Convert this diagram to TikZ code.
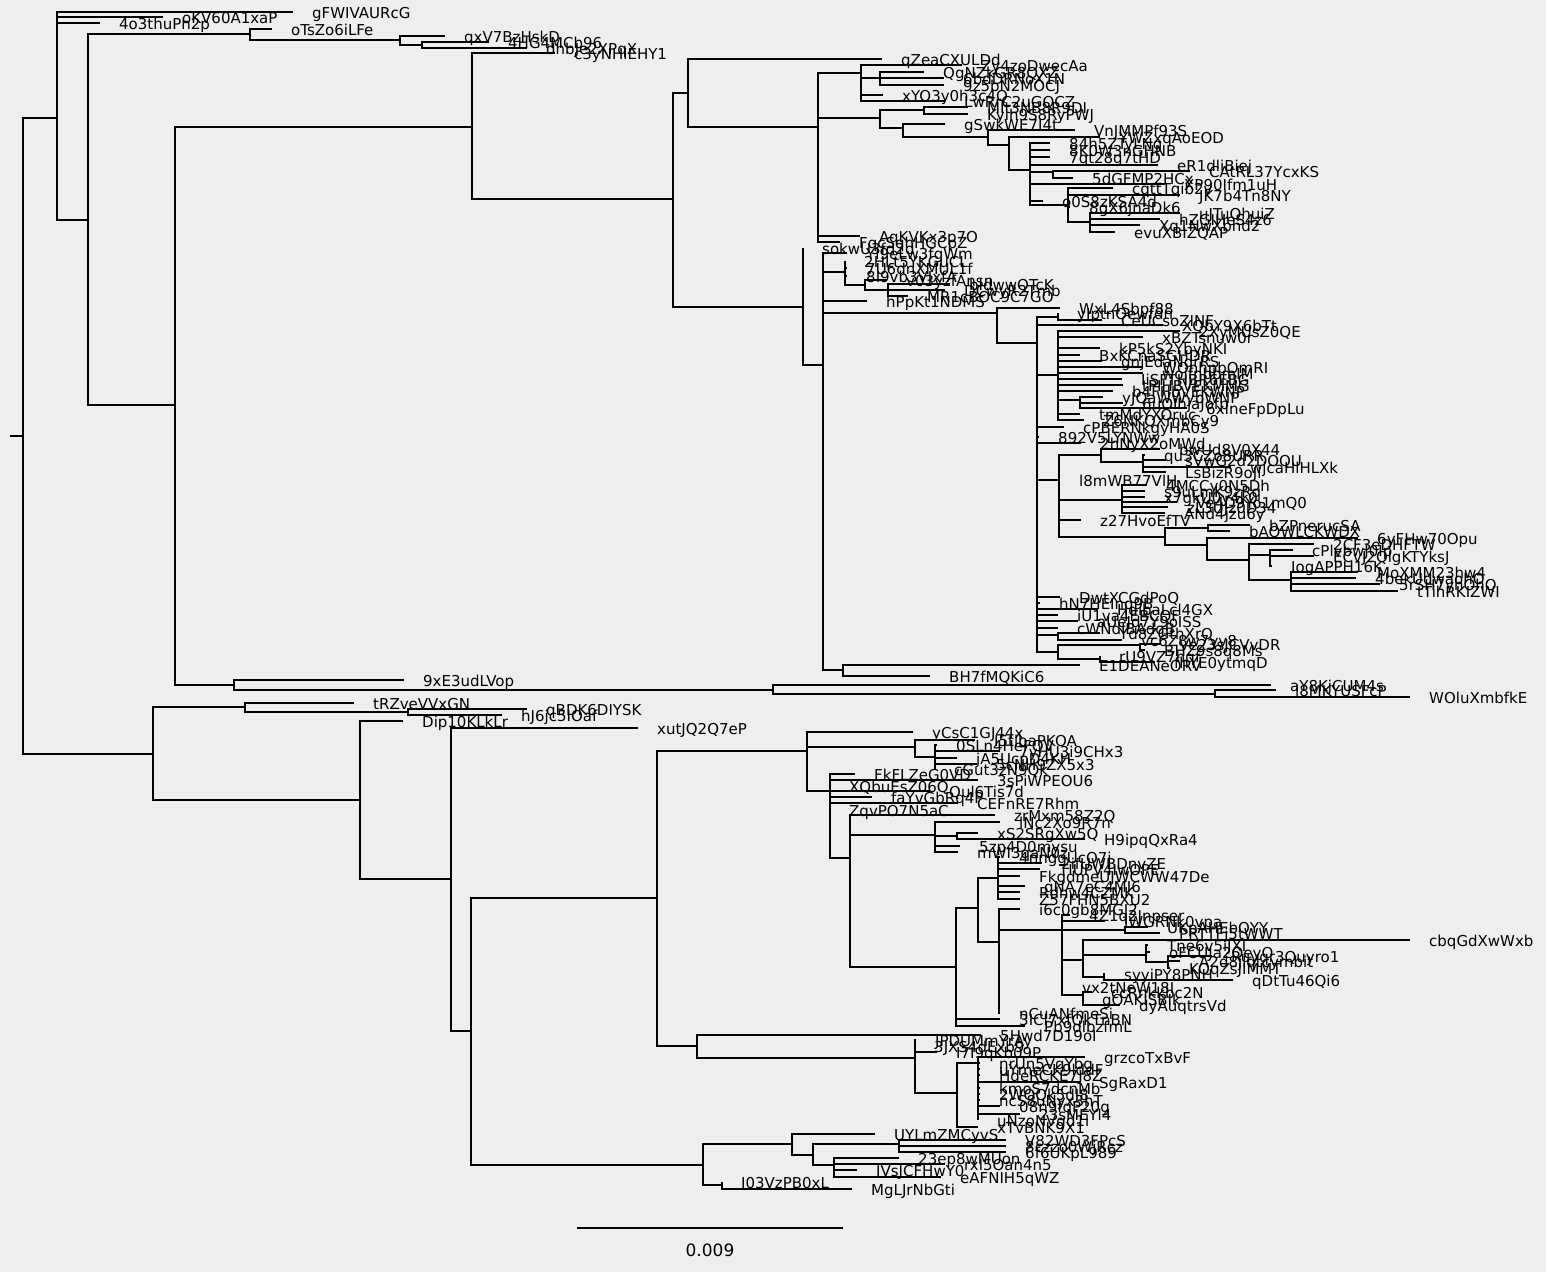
\documentclass[tikz,border=0pt]{standalone}
\usepackage{fontspec}
\usepackage{tikz}
\setmainfont{DejaVu Sans}
\definecolor{paper}{HTML}{EEEEEE}
\tikzstyle{leaf}=[anchor=west,inner xsep=19pt,inner ysep=0pt,text height=14pt,text depth=2pt,font=\fontsize{15}{15}\selectfont]
\tikzstyle{branch} = [draw,line width=1.6pt,-]

\begin{document}
\begin{tikzpicture}[x=1pt,y=-1pt]
    \useasboundingbox (0,0) rectangle (1546,1272);
    \fill[paper] (0,0) rectangle (1546,1272);
    % Draw the tree
    % First we place the inner nodes
    \foreach \name/\px/\py in {rootstub/10/436, r0/23/436, nA/57/118, nB/88/220, nC/250/34, nD/400/40, nE/422/45,
        nG/175/405, nF/472/127, nH/673/199, nU/688/93, nS/818/127, nSa/861/73, nSb/880/78, nSc/880/118,
        nSd/924/110, nSe/903/128, nSf/988/137, nSg/1009/145, nSh/1030/170, nSi/1053/172, nSj/1068/205, nSk/1090/222,
        nT/803/307, nV/823/365, nVa/845/272, nVb/865/285, nVc/888/290, nW/997/313, nX/1037/343, nXa/1058/317,
        nY/1058/375, nYa/1080/400, nZ/1059/480, nZa/1101/455, nZb/1143/462, nZd/1122/500, nZe/1165/537,
        nZf/1208/528, nZg/1207/545, nZh/1249/560, nZi/1270/555, nZj/1291/580, nXb/1058/635, nXc/1058/652,
        nXd/1140/645, nXe/1100/659, nVd/843/670, n9x/234/685, n77/773/690, n12/1215/694,
        nI/153/754, nJ/245/707, nK/408/712, nL/360/800, nM/451/879, nN/471/1031, nO/657/898,
        nP/807/751, nPa/915/747, nPb/935/757, nPc/830/791, nPd/850/858, nPe/935/835, nPg/957/836,
        nPh/956/967, nPi/978/908, nPj/998/878, nPl/999/942, nPm/1062/930, nPn/1125/930, nPo/1083/960,
        nPp/1146/955, nPq/1168/962, nPr/1104/977, nPs/1083/995,
        nQ/697/1046, nQa/915/1058, nQb/957/1093, nQc/978/1063,
        nR/703/1165, nRa/792/1144, nRb/722/1185, nRc/813/1155, nRd/899/1144, nRe/834/1165,
        sbL/577/1228, sbR/843/1228}
        \coordinate (\name) at (\px,\py);

    % Then the leaves, named by their labels
    \foreach \px/\py/\name in {293/12/gFWIVAURcG, 163/17/oKV60A1xaP, 100/23/4o3thuPh2p, 272/29/oTsZo6iLFe,
        445/36/qxV7BzHskD, 489/42/4HG4MCb96, 527/48/dhbJe2XPqX, 555/53/c3yNHlEHY1, 882/59/qZeaCXULDd,
        962/65/Zy4zoDwecAa, 924/72/QgNZkGR8QXZ, 944/78/6bdDRNoX1N, 944/85/9z5bN2MOCJ, 883/95/xYO3y0h3c4Q,
        945/101/LwRrC2uGQCZ, 968/107/MIt3NB8R9DI, 968/114/Kyih9S8RyPWJ, 945/124/gSwkWE7I4t,
        1075/130/VnJMMPf93S, 1100/137/YWZxqAoEOD, 1050/143/84h5ZTyLNg, 1050/150/8K0W3nGHNB,
        1050/157/7qt28g7tHD, 1158/165/eR1dliBiej, 1190/171/CAtRL37YcxKS, 1073/178/5dGFMP2HCx,
        1165/184/XP90Ifm1uH, 1113/188/cqttTqib2v, 1180/195/JK7b4Tn8NY, 1043/201/o0S8zKSA4d,
        1070/207/8gX6jnaDk6, 1180/213/uJTuQhuiZ, 1160/219/hZGIHeS4z6, 1140/225/Xq1NwXbhd2,
        1115/232/evuXBIZQAP, 860/236/AqKVKx3p7O, 840/242/FqcSqhHGCpZ,
        803/248/sokwU3fd2d, 847/253/Yl9eLw3fgWm, 845/261/2HLt5YKGuCL, 847/268/7U6dnXMUL1f,
        847/276/8I9vb3VJxfA, 887/280/v03yzfAnsn, 950/284/bIdwwQTcK, 945/290/DCwyR2Tmb,
        908/296/MR1cBOC9C7GO, 867/301/hPpKt1NDMS, 1060/308/WxL4Sbpf88, 1058/313/yIptnOewfdn,
        1102/320/CeUCsoZINF, 1163/325/XQbY9X6bTt, 1180/331/2XyMUsZ0QE, 1143/337/xBZTsnuw0r,
        1100/348/kP5kS2YbyNKI, 1080/355/BxKCnaSGHDR, 1102/361/gnjEdaNdrRS, 1143/367/WOnhpbOmRI,
        1143/373/woifnbbmIM, 1122/379/IiSFTHBR6EBG, 1123/385/tPIHBVEKMMG, 1113/391/b4FHbVEKWNP,
        1103/397/yJQaWWybWNP, 1123/403/6uOIhjaJofp, 1187/408/6xIneFpDpLu, 1080/414/tmMdYXOruc,
        1084/420/Z6NKQXmbCy9, 1064/427/cPBERNkgyHA0S, 1039/437/892V5LYNWw, 1081/443/2hNyX2oMWd,
        1160/449/bwUd8V0X44, 1145/455/qu3CZo8URR, 1166/460/sVwG2d2DOQU, 1231/467/wjcaHlHLXk,
        1166/472/LsBizR9oJl, 1060/480/l8mWB77VlH, 1147/485/4MCCy0N5Dh, 1145/491/s9uLmK9zRq,
        1145/497/x7gkU0y4k0, 1177/502/Ve4D9Yo1mQ0, 1168/507/zL3UJz0D34, 1165/513/ANd4jzu6y,
        1081/520/z27HvoEfTV, 1250/525/bZPnerucSA, 1230/531/bAOWLCKWDX, 1358/538/6yFHw70Opu,
        1314/544/2CF3eDHFTW, 1293/550/cPlvbwJ0Ip, 1314/556/ECvJ2QlgKTYksJ, 1272/566/IogAPPH16K,
        1358/572/MoXMM23hw4, 1356/578/4bekUdwaohO, 1380/584/5rSH7yhOhQ, 1398/591/tTihRKIZWI,
        1060/597/DwtXCGdPoQ, 1040/603/hN7HEInq9B, 1098/609/HdibaLcl4GX, 1058/615/iU1va4EBCQF,
        1078/621/aUeJd7Y9oISS, 1058/628/cWNdIBAdqB, 1100/633/Yd8ZGthXrO, 1122/640/vc6Z8w7yv8,
        1160/644/Ve23sJCVvDR, 1145/650/BHZ9s8q8Ms, 1100/656/rU9VZ7hqf, 1155/662/fhYE0ytmqD,
        1080/665/E1DEANeORV, 930/676/BH7fMQKiC6, 404/680/9xE3udLVop, 1271/685/aY8KjCUM4s,
        1276/690/l8MKYUSFcP, 1410/697/WOluXmbfkE,
        354/703/tRZveVVxGN, 527/709/qBDK6DIYSK, 502/715/hJ6jc5IOaf, 403/721/Dip10KLkLr, 638/728/xutJQ2Q7eP,
        913/732/yCsC1GJ44x, 975/740/I5tlbaPKOA, 937/745/0SLn4HeFQV, 1000/751/7yHU3i9CHx3,
        957/758/jA5UcpD4KH, 977/764/5cNH9ZX5x3, 935/769/cGut3zN9Qk, 855/774/FkFLZeG0VD,
        978/780/3sPiWPEOU6, 830/786/XQbuEsZ06Q, 930/791/Qul6Tis7d, 872/797/faYvGbRq4P,
        958/803/CEFnRE7Rhm, 830/810/ZqvPO7N5aC, 995/815/zrMxm58Z2Q, 1000/822/lNc2Xo9R7n,
        978/833/xS2SRgXw5Q, 1085/839/H9ipqQxRa4, 960/846/5zp4D0mysu, 958/852/mWI3qaN0z,
        1000/857/4nnggUcO7i, 1042/863/2ifUWBDnvZE, 1040/869/TIUPV4IwOPE, 1020/876/FkgdmeUJWCWW47De,
        1025/886/qNA7eC4MI6, 1020/892/Rdnw4CZMK, 1020/899/Z57FHN5BXU2, 1020/909/i6c0gb8MGJ2,
        1070/915/4Z1q2Jnpser, 1105/921/lWGRNk0vpa, 1148/927/UKpAHEbQYY, 1160/933/PRTTFj5tWWT,
        1410/940/cbqGdXwWxb, 1148/945/Tne6v5iJXI, 1150/952/oFCUJa2QeyO, 1212/956/Ruyqr3Quyro1,
        1180/961/A2d8jlqtcymbit, 1170/968/KOqZsJIMMT, 1105/974/syyiPY8PNH, 1233/980/qDtTu46Qi6,
        1063/987/vx2tNeW18I, 1092/992/ccRnkkbc2N, 1083/999/gOAKISBIk, 1120/1005/dyAuqtrsVd,
        1000/1013/nCuANfmeSi, 1000/1019/3ICl7xfQkTnBN, 1025/1026/Pb9dlbzfmL,
        981/1035/5Hwd7D19oI, 916/1040/JPDUMmYrAy, 915/1046/3JXS4dExb9, 937/1052/I7I9qKb09P,
        1085/1057/grzcoTxBvF, 980/1063/nrUn5VqYbg, 980/1069/uYmeCK9lddF, 980/1075/HdeRCKE7J8Z,
        1080/1082/SgRaxD1, 980/1088/kmoS7dcnMb, 980/1094/2WOQk5dJ8, 980/1100/ncS8uNyx3hT,
        1000/1106/08n9fqP20g, 1020/1114/23sMEYl4, 978/1120/uNzoNVgd1l, 978/1127/xTvBNK9X1,
        875/1134/UYLmZMCyvS, 1006/1140/V82WD3FPcS, 1006/1146/8czzo0WjRcz, 1006/1152/6f6UKpL989,
        899/1158/23ep8wMUon, 945/1164/rxl5Oan4n5, 857/1170/IVsJCFHwY0, 941/1177/eAFNIH5qWZ,
        722/1182/I03VzPB0xL, 852/1189/MgLJrNbGti}
        \node[leaf] (\name) at (\px,\py) {\name};

    % Connect parents with children
    \path[branch] (rootstub) -- (r0);
    \foreach \source/\dest in {r0/nA, r0/nI,
        nA/gFWIVAURcG, nA/oKV60A1xaP, nA/4o3thuPh2p, nA/nB, nB/nC, nB/nG,
        nC/oTsZo6iLFe, nC/nD, nD/qxV7BzHskD, nD/nE, nE/4HG4MCb96, nE/dhbJe2XPqX,
        nG/nF, nG/n9x, nF/c3yNHlEHY1, nF/nH, nH/nU, nH/nT, nU/qZeaCXULDd, nU/nS,
        nS/nSa, nS/nSc, nS/AqKVKx3p7O, nS/FqcSqhHGCpZ,
        nSa/Zy4zoDwecAa, nSa/nSb, nSa/xYO3y0h3c4Q, nSa/LwRrC2uGQCZ,
        nSb/QgNZkGR8QXZ, nSb/6bdDRNoX1N, nSb/9z5bN2MOCJ, nSc/nSd, nSc/nSe,
        nSd/MIt3NB8R9DI, nSd/Kyih9S8RyPWJ, nSe/gSwkWE7I4t, nSe/nSf,
        nSf/VnJMMPf93S, nSf/nSg, nSg/YWZxqAoEOD, nSg/nSh,
        nSh/84h5ZTyLNg, nSh/8K0W3nGHNB, nSh/7qt28g7tHD, nSh/eR1dliBiej, nSh/nSi, nSh/XP90Ifm1uH,
        nSh/o0S8zKSA4d, nSh/nSj, nSi/CAtRL37YcxKS, nSi/5dGFMP2HCx,
        nSj/cqttTqib2v, nSj/JK7b4Tn8NY, nSj/8gX6jnaDk6, nSj/nSk,
        nSk/uJTuQhuiZ, nSk/hZGIHeS4z6, nSk/Xq1NwXbhd2, nSk/evuXBIZQAP}
        \path[branch] (\source) |- (\dest);

    \foreach \source/\dest in {nT/sokwU3fd2d, nT/nV,
        nV/Yl9eLw3fgWm, nV/nVa, nV/hPpKt1NDMS, nV/nW, nV/nVd,
        nVa/2HLt5YKGuCL, nVa/7U6dnXMUL1f, nVa/8I9vb3VJxfA, nVa/nVb, nVb/v03yzfAnsn, nVb/nVc,
        nVc/bIdwwQTcK, nVc/DCwyR2Tmb, nVc/MR1cBOC9C7GO, nW/WxL4Sbpf88, nW/nX,
        nX/nXa, nX/XQbY9X6bTt, nX/nY, nX/cPBERNkgyHA0S, nX/892V5LYNWw, nX/2hNyX2oMWd, nX/nZ,
        nX/DwtXCGdPoQ, nX/hN7HEInq9B, nX/HdibaLcl4GX, nX/iU1va4EBCQF, nX/aUeJd7Y9oISS,
        nX/cWNdIBAdqB, nX/nXb, nX/nXc, nXa/yIptnOewfdn, nXa/CeUCsoZINF,
        nY/2XyMUsZ0QE, nY/xBZTsnuw0r, nY/kP5kS2YbyNKI, nY/BxKCnaSGHDR, nY/gnjEdaNdrRS,
        nY/WOnhpbOmRI, nY/woifnbbmIM, nY/IiSFTHBR6EBG, nY/tPIHBVEKMMG, nY/b4FHbVEKWNP,
        nY/nYa, nY/tmMdYXOruc, nY/Z6NKQXmbCy9,
        nYa/yJQaWWybWNP, nYa/6uOIhjaJofp, nYa/6xIneFpDpLu,
        nZ/nZa, nZ/l8mWB77VlH, nZ/nZd, nZ/z27HvoEfTV, nZ/nZe, nZa/bwUd8V0X44, nZa/nZb,
        nZb/qu3CZo8URR, nZb/sVwG2d2DOQU, nZb/wjcaHlHLXk, nZb/LsBizR9oJl,
        nZd/4MCCy0N5Dh, nZd/s9uLmK9zRq, nZd/x7gkU0y4k0, nZd/Ve4D9Yo1mQ0, nZd/zL3UJz0D34, nZd/ANd4jzu6y,
        nZe/nZf, nZe/nZg, nZf/bZPnerucSA, nZf/bAOWLCKWDX, nZg/6yFHw70Opu, nZg/nZh,
        nZh/2CF3eDHFTW, nZh/nZi, nZh/nZj, nZi/cPlvbwJ0Ip, nZi/ECvJ2QlgKTYksJ, nZi/IogAPPH16K,
        nZj/MoXMM23hw4, nZj/4bekUdwaohO, nZj/5rSH7yhOhQ, nZj/tTihRKIZWI,
        nXb/Yd8ZGthXrO, nXb/vc6Z8w7yv8, nXc/nXd, nXc/nXe, nXd/Ve23sJCVvDR, nXd/BHZ9s8q8Ms,
        nXe/rU9VZ7hqf, nXe/fhYE0ytmqD, nVd/E1DEANeORV, nVd/BH7fMQKiC6,
        n9x/9xE3udLVop, n9x/n77, n77/aY8KjCUM4s, n77/n12, n12/l8MKYUSFcP, n12/WOluXmbfkE}
        \path[branch] (\source) |- (\dest);

    \foreach \source/\dest in {nI/nJ, nI/nL, nJ/tRZveVVxGN, nJ/nK, nK/qBDK6DIYSK, nK/hJ6jc5IOaf,
        nL/Dip10KLkLr, nL/nM, nM/xutJQ2Q7eP, nM/nN, nN/nO, nN/nR, nO/nP, nO/nQ,
        nP/yCsC1GJ44x, nP/nPa, nP/nPc, nPa/I5tlbaPKOA, nPa/nPb,
        nPb/0SLn4HeFQV, nPb/7yHU3i9CHx3, nPb/jA5UcpD4KH, nPb/5cNH9ZX5x3, nPb/cGut3zN9Qk,
        nPc/FkFLZeG0VD, nPc/3sPiWPEOU6, nPc/XQbuEsZ06Q, nPc/Qul6Tis7d, nPc/faYvGbRq4P,
        nPc/CEFnRE7Rhm, nPc/ZqvPO7N5aC, nPc/nPd, nPd/zrMxm58Z2Q, nPd/nPe, nPd/nPh,
        nPe/lNc2Xo9R7n, nPe/nPg, nPe/5zp4D0mysu, nPe/mWI3qaN0z, nPg/xS2SRgXw5Q, nPg/H9ipqQxRa4,
        nPh/nPi, nPh/3ICl7xfQkTnBN, nPh/Pb9dlbzfmL, nPi/nPj, nPi/nPl,
        nPj/4nnggUcO7i, nPj/2ifUWBDnvZE, nPj/TIUPV4IwOPE, nPj/FkgdmeUJWCWW47De, nPj/qNA7eC4MI6,
        nPj/Rdnw4CZMK, nPj/Z57FHN5BXU2, nPl/i6c0gb8MGJ2, nPl/nPm, nPl/nCuANfmeSi,
        nPm/4Z1q2Jnpser, nPm/lWGRNk0vpa, nPm/nPn, nPm/nPo, nPm/vx2tNeW18I, nPm/nPs,
        nPn/UKpAHEbQYY, nPn/PRTTFj5tWWT, nPo/cbqGdXwWxb, nPo/nPp, nPo/nPr,
        nPp/Tne6v5iJXI, nPp/oFCUJa2QeyO, nPp/nPq, nPq/Ruyqr3Quyro1, nPq/A2d8jlqtcymbit, nPq/KOqZsJIMMT,
        nPr/syyiPY8PNH, nPr/qDtTu46Qi6, nPs/ccRnkkbc2N, nPs/gOAKISBIk, nPs/dyAuqtrsVd,
        nQ/5Hwd7D19oI, nQ/nQa, nQa/JPDUMmYrAy, nQa/3JXS4dExb9, nQa/I7I9qKb09P, nQa/nQb,
        nQb/nQc, nQb/xTvBNK9X1, nQc/grzcoTxBvF, nQc/nrUn5VqYbg, nQc/uYmeCK9lddF, nQc/HdeRCKE7J8Z,
        nQc/SgRaxD1, nQc/kmoS7dcnMb, nQc/2WOQk5dJ8, nQc/ncS8uNyx3hT, nQc/08n9fqP20g, nQc/23sMEYl4,
        nQc/uNzoNVgd1l,
        nR/nRa, nR/nRb, nRa/UYLmZMCyvS, nRa/nRc, nRc/nRd, nRc/nRe,
        nRd/V82WD3FPcS, nRd/8czzo0WjRcz, nRd/6f6UKpL989,
        nRe/23ep8wMUon, nRe/rxl5Oan4n5, nRe/IVsJCFHwY0, nRe/eAFNIH5qWZ,
        nRb/I03VzPB0xL, nRb/MgLJrNbGti}
        \path[branch] (\source) |- (\dest);

    % Scale bar
    \path[branch] (sbL) -- (sbR);
    \node[font=\fontsize{17}{17}\selectfont] (scalelabel) at (710,1250) {0.009};
\end{tikzpicture}
\end{document}
